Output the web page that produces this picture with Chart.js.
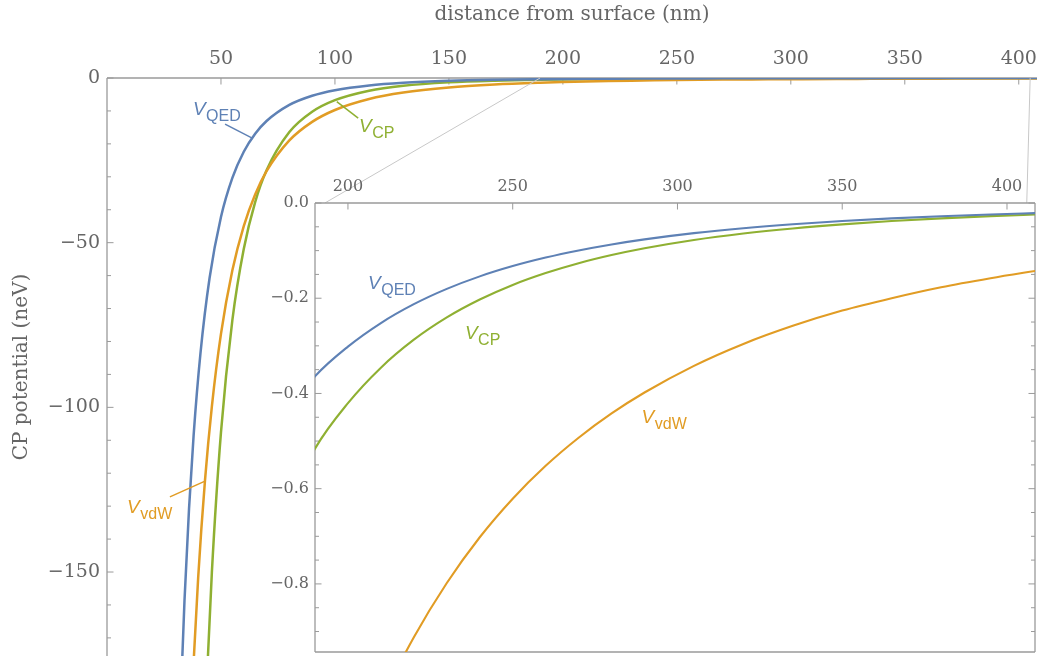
<!DOCTYPE html>
<html>
<head>
<meta charset="utf-8">
<script src="https://cdn.jsdelivr.net/npm/chart.js@4/dist/chart.umd.min.js"></script>
<style>
  html, body { margin: 0; padding: 0; background: #fff; overflow: hidden; width: 1037px; height: 656px; }
  #main  { position: absolute; left: 0; top: 0; }
  #inset { position: absolute; left: 240px; top: 160px; }
</style>
</head>
<body>
<canvas id="main" width="1037" height="656"></canvas>
<canvas id="inset" width="797" height="496"></canvas>
<script>
// Casimir–Polder potential of an atom near a surface (neV) versus distance (nm)

// Full QED potential
const distQED = [32, 34, 36, 38, 41, 45, 50, 55, 60, 65, 70, 80, 90, 100, 115, 130, 150, 170, 190,
                 200, 210, 220, 230, 240, 250, 260, 270, 280, 290, 305, 320, 335, 350, 365, 380, 395, 410];
const potQED  = [-195, -158.6, -130.6, -108.5, -83.65, -60.74, -42.21, -30.33, -22.40, -16.93, -13.06, -8.158, -5.377, -3.696,
                 -2.243, -1.444, -0.8603, -0.5458, -0.3640,
                 -0.3016, -0.2521, -0.2125, -0.1804, -0.1541, -0.1325, -0.1146, -0.09965, -0.08706, -0.07640,
                 -0.06331, -0.05291, -0.04459, -0.03784, -0.03233, -0.02778, -0.02401, -0.02086];

// Retarded (Casimir–Polder) limit
const distCP = [43.5, 46, 50, 55, 60, 65, 70, 80, 90, 100, 115, 130, 150, 170, 190,
                200, 210, 220, 230, 240, 250, 260, 270, 280, 290, 305, 320, 335, 350, 365, 380, 395, 410];
const potCP  = [-187.8, -150.2, -107.6, -73.49, -51.89, -37.67, -28.01, -16.42, -10.25, -6.725, -3.845, -2.354, -1.328, -0.805, -0.516,
                -0.4203, -0.3458, -0.2871, -0.2403, -0.2027, -0.1721, -0.1472, -0.1265, -0.1094, -0.0951,
                -0.0777, -0.0641, -0.0534, -0.0448, -0.0379, -0.0323, -0.0276, -0.0238];

// Non-retarded (van der Waals) limit
const distVdW = [37.5, 40, 43, 46, 50, 55, 60, 65, 70, 80, 90, 100, 115, 130, 150, 170, 190,
                 200, 210, 220, 230, 240, 250, 260, 270, 280, 290, 305, 320, 335, 350, 365, 380, 395, 410];
const potVdW  = [-184.1, -151.7, -122.1, -99.75, -77.7, -58.4, -44.95, -35.36, -28.31, -18.96, -13.32, -9.71, -6.385, -4.42,
                 -2.877, -1.976, -1.416,
                 -1.214, -1.048, -0.912, -0.798, -0.702, -0.621, -0.552, -0.493, -0.442, -0.398,
                 -0.342, -0.296, -0.258, -0.226, -0.200, -0.177, -0.158, -0.141];

// Tick values
const mainXTicks  = [50, 100, 150, 200, 250, 300, 350, 400];
const mainYTicks  = [0, -50, -100, -150];
const insetXTicks = [200, 250, 300, 350, 400];
const insetYTicks = [0, -0.2, -0.4, -0.6, -0.8];

const BLUE = '#5E81B5', ORANGE = '#E19C24', GREEN = '#8FB032';
const AXIS = '#9a9a9a', TEXT = '#666666';
const SERIF = 'DejaVu Serif';

const pts = (xs, ys) => xs.map((x, i) => ({ x, y: ys[i] }));
const minus = v => (v < 0 ? '\u2212' : '') + Math.abs(v);

function stepValues(min, max, step) {
  const out = [];
  for (let k = Math.ceil(min / step - 1e-9); k * step <= max + 1e-9; k++) out.push(+(k * step).toFixed(6));
  return out;
}

// Frame lines and inward tick marks
const axisFrame = {
  id: 'axisFrame',
  beforeDatasetsDraw(chart, args, o) {
    const { ctx, chartArea: a, scales: { x, y } } = chart;
    ctx.save();
    if (o.fill) { ctx.fillStyle = '#fff'; ctx.fillRect(a.left, a.top, a.right - a.left, a.bottom - a.top); }
    ctx.strokeStyle = AXIS;
    ctx.lineWidth = 1.3;
    ctx.beginPath();
    o.sides.forEach(s => {
      if (s === 'left')   { ctx.moveTo(a.left, a.top); ctx.lineTo(a.left, a.bottom); }
      if (s === 'right')  { ctx.moveTo(a.right, a.top); ctx.lineTo(a.right, a.bottom); }
      if (s === 'top')    { ctx.moveTo(a.left, a.top); ctx.lineTo(a.right, a.top); }
      if (s === 'bottom') { ctx.moveTo(a.left, a.bottom); ctx.lineTo(a.right, a.bottom); }
    });
    ctx.stroke();
    ctx.lineWidth = 1;
    o.ticks.forEach(t => {
      const sc = t.axis === 'x' ? x : y;
      const majors = t.major;
      const minors = t.minorStep ? stepValues(sc.min, sc.max, t.minorStep)
        .filter(v => !majors.some(m => Math.abs(m - v) < t.minorStep / 10)) : [];
      const draw = (v, len) => {
        const p = sc.getPixelForValue(v);
        ctx.beginPath();
        if (t.side === 'left')  { ctx.moveTo(a.left, p);  ctx.lineTo(a.left + len, p); }
        if (t.side === 'right') { ctx.moveTo(a.right, p); ctx.lineTo(a.right - len, p); }
        if (t.side === 'top')   { ctx.moveTo(p, a.top);   ctx.lineTo(p, a.top + len); }
        ctx.stroke();
      };
      majors.forEach(v => draw(v, 6.5));
      minors.forEach(v => draw(v, 4));
    });
    ctx.restore();
  }
};

// Series labels V_sub with optional leader lines
const curveLabels = {
  id: 'curveLabels',
  afterDatasetsDraw(chart, args, o) {
    const { ctx, scales: { x, y } } = chart;
    ctx.save();
    o.items.forEach(it => {
      ctx.strokeStyle = it.color;
      ctx.fillStyle = it.color;
      if (it.leader) {
        ctx.lineWidth = 1.5;
        ctx.beginPath();
        ctx.moveTo(x.getPixelForValue(it.leader[0]), y.getPixelForValue(it.leader[1]));
        ctx.lineTo(x.getPixelForValue(it.leader[2]), y.getPixelForValue(it.leader[3]));
        ctx.stroke();
      }
      const px = x.getPixelForValue(it.x), py = y.getPixelForValue(it.y);
      ctx.textBaseline = 'alphabetic';
      ctx.textAlign = 'left';
      ctx.font = 'italic 19px "Liberation Sans"';
      ctx.fillText('V', px, py);
      const w = ctx.measureText('V').width;
      ctx.font = '16px "Liberation Sans"';
      ctx.fillText(it.sub, px + w + 0.5, py + 6);
    });
    ctx.restore();
  }
};

const lineStyle = (color, width) => ({
  borderColor: color, borderWidth: width, pointRadius: 0, fill: false,
  cubicInterpolationMode: 'monotone'
});

const datasets = w => [
  Object.assign({ label: 'V_QED', data: pts(distQED, potQED) }, lineStyle(BLUE, w)),
  Object.assign({ label: 'V_vdW', data: pts(distVdW, potVdW) }, lineStyle(ORANGE, w)),
  Object.assign({ label: 'V_CP',  data: pts(distCP, potCP) },  lineStyle(GREEN, w))
];

// Inset: 190–408.5 nm
const insetCanvas = document.getElementById('inset');
const insetChart = new Chart(insetCanvas, {
  type: 'line',
  data: { datasets: datasets(2.1) },
  options: {
    responsive: false, animation: false, events: [],
    layout: { padding: { left: 0, top: 0, right: 2, bottom: 4 } },
    plugins: {
      legend: { display: false }, tooltip: { enabled: false },
      axisFrame: {
        fill: true,
        sides: ['left', 'top', 'right', 'bottom'],
        ticks: [
          { axis: 'x', side: 'top', major: insetXTicks },
          { axis: 'y', side: 'left', major: insetYTicks, minorStep: 0.05 },
          { axis: 'y', side: 'right', major: insetYTicks, minorStep: 0.05 }
        ]
      },
      curveLabels: {
        items: [
          { sub: 'QED', color: BLUE,   x: 206.1, y: -0.181 },
          { sub: 'CP',  color: GREEN,  x: 235.5, y: -0.285 },
          { sub: 'vdW', color: ORANGE, x: 289.1, y: -0.463 }
        ]
      }
    },
    scales: {
      x: {
        type: 'linear', position: 'top', min: 190, max: 408.5,
        grid: { display: false, drawTicks: false }, border: { display: false },
        afterBuildTicks: s => { s.ticks = insetXTicks.map(v => ({ value: v })); },
        afterFit: s => { s.height = 43; s.paddingLeft = 0; s.paddingRight = 0; },
        ticks: { padding: 7, color: TEXT, font: { family: SERIF, size: 16 }, maxRotation: 0, autoSkip: false,
                 callback: v => String(v) }
      },
      y: {
        type: 'linear', position: 'left', min: -0.943, max: 0,
        grid: { display: false, drawTicks: false }, border: { display: false },
        afterBuildTicks: s => { s.ticks = insetYTicks.map(v => ({ value: v })); },
        afterFit: s => { s.width = 75; s.paddingTop = 0; s.paddingBottom = 0; },
        ticks: { padding: 6, color: TEXT, font: { family: SERIF, size: 16 }, autoSkip: false,
                 callback: v => (v < 0 ? '\u2212' : '') + Math.abs(v).toFixed(1) }
      }
    }
  },
  plugins: [axisFrame, curveLabels]
});

// Grey lines linking the zoomed range on the main axis to the inset
const zoomLinks = [[190, 193], [405, 406]];
const linkLines = {
  id: 'linkLines',
  afterDatasetsDraw(chart) {
    const { ctx, scales: { x, y } } = chart;
    const ix = insetChart.scales.x, ia = insetChart.chartArea;
    ctx.save();
    ctx.strokeStyle = '#c8c8c8';
    ctx.lineWidth = 1;
    zoomLinks.forEach(([from, to]) => {
      ctx.beginPath();
      ctx.moveTo(x.getPixelForValue(from), y.getPixelForValue(0));
      ctx.lineTo(insetCanvas.offsetLeft + ix.getPixelForValue(to), insetCanvas.offsetTop + ia.top);
      ctx.stroke();
    });
    ctx.restore();
  }
};

// Main plot: 0–408 nm
new Chart(document.getElementById('main'), {
  type: 'line',
  data: { datasets: datasets(2.5) },
  options: {
    responsive: false, animation: false, events: [],
    layout: { padding: 0 },
    plugins: {
      legend: { display: false }, tooltip: { enabled: false },
      axisFrame: {
        fill: false,
        sides: ['left', 'top'],
        ticks: [
          { axis: 'x', side: 'top', major: mainXTicks },
          { axis: 'y', side: 'left', major: mainYTicks, minorStep: 10 }
        ]
      },
      curveLabels: {
        items: [
          { sub: 'QED', color: BLUE,   x: 37.7,  y: -11.2,  leader: [51.8, -14.0, 63.5, -18.2] },
          { sub: 'CP',  color: GREEN,  x: 110.6, y: -16.3,  leader: [100.8, -7.2, 110.2, -12.2] },
          { sub: 'vdW', color: ORANGE, x: 8.8,   y: -132.2, leader: [27.6, -127.2, 43.0, -122.4] }
        ]
      }
    },
    scales: {
      x: {
        type: 'linear', position: 'top', min: 0, max: 408,
        grid: { display: false, drawTicks: false }, border: { display: false },
        afterBuildTicks: s => { s.ticks = mainXTicks.map(v => ({ value: v })); },
        afterFit: s => { s.height = 78; s.paddingLeft = 0; s.paddingRight = 0; },
        ticks: { padding: 8, color: TEXT, font: { family: SERIF, size: 19 }, maxRotation: 0, autoSkip: false,
                 callback: v => String(v) },
        title: { display: true, text: 'distance from surface (nm)', color: TEXT,
                 font: { family: SERIF, size: 20 }, padding: { top: 3, bottom: 0 } }
      },
      y: {
        type: 'linear', position: 'left', min: -175.5, max: 0,
        grid: { display: false, drawTicks: false }, border: { display: false },
        afterBuildTicks: s => { s.ticks = mainYTicks.map(v => ({ value: v })); },
        afterFit: s => { s.width = 107; s.paddingTop = 0; s.paddingBottom = 0; },
        ticks: { padding: 7, color: TEXT, font: { family: SERIF, size: 19 }, autoSkip: false,
                 callback: v => minus(v) },
        title: { display: true, text: 'CP potential (neV)', color: TEXT,
                 font: { family: SERIF, size: 20 }, padding: { top: 10, bottom: 0 } }
      }
    }
  },
  plugins: [axisFrame, curveLabels, linkLines]
});
</script>
</body>
</html>
